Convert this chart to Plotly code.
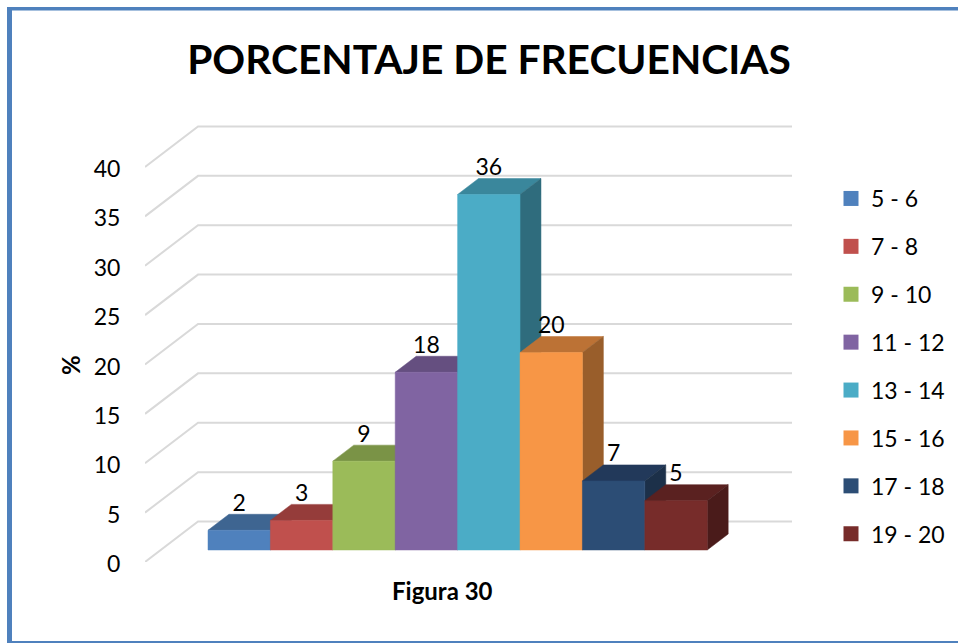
import plotly.graph_objects as go

FONT = "Lato"

categories = ["5 - 6", "7 - 8", "9 - 10", "11 - 12", "13 - 14", "15 - 16", "17 - 18", "19 - 20"]
values = [2, 3, 9, 18, 36, 20, 7, 5]
front_colors = ["#4F81BD", "#C0504D", "#9BBB59", "#8064A2", "#4BACC6", "#F79646", "#2C4D75", "#772C2A"]
top_colors = ["#3E6591", "#953C3A", "#7A9346", "#654F80", "#3A879C", "#BC7235", "#22395A", "#5A2120"]
side_colors = ["#2F4D72", "#723432", "#5E7136", "#4D3D62", "#2F6C7D", "#995E2B", "#1C3049", "#4A1B1A"]
y_ticks = [0, 5, 10, 15, 20, 25, 30, 35, 40]

W, H = 958, 643
L, R, T, B = 145, 792, 117, 562
X_MIN, X_MAX = -0.758, 9.61
Y_MAX = 45.06

# oblique projection: one unit of depth moves this far on the axes
WALL_DX, WALL_DY = 0.85, 4.1
BAR_D0, BAR_D1 = 0.296, 0.691


def project(x, y, depth):
    return x + depth * WALL_DX, y + depth * WALL_DY


def polygon(points):
    xs, ys = zip(*[project(*p) for p in points])
    return list(xs) + [xs[0]], list(ys) + [ys[0]]


def px(x):
    return (x - L) / (R - L)


def py(y):
    return (B - y) / (B - T)


fig = go.Figure()

# walls and floor
for t in y_ticks:
    gx, gy = zip(*[project(X_MIN, t, 0), project(X_MIN, t, 1), (X_MAX, t + WALL_DY)])
    fig.add_trace(go.Scatter(x=gx, y=gy, mode="lines", showlegend=False, hoverinfo="skip",
                             cliponaxis=False, line=dict(color="#D9D9D9", width=2)))

# bars, left to right so each one covers the side of the one before
for i, v in enumerate(values):
    top = polygon([(i, v, BAR_D0), (i + 1, v, BAR_D0), (i + 1, v, BAR_D1), (i, v, BAR_D1)])
    side = polygon([(i + 1, 0, BAR_D0), (i + 1, v, BAR_D0), (i + 1, v, BAR_D1), (i + 1, 0, BAR_D1)])
    front = polygon([(i, 0, BAR_D0), (i + 1, 0, BAR_D0), (i + 1, v, BAR_D0), (i, v, BAR_D0)])
    for (fx, fy), c in [(top, top_colors[i]), (side, side_colors[i]), (front, front_colors[i])]:
        fig.add_trace(go.Scatter(x=fx, y=fy, mode="lines", fill="toself", fillcolor=c,
                                 line=dict(color=c, width=0.5), showlegend=False,
                                 hoverinfo="skip"))

# legend swatches
for c, col in zip(categories, front_colors):
    fig.add_trace(go.Scatter(x=[None], y=[None], mode="markers", name=c, legendgroup=c,
                             marker=dict(symbol="square", size=15, color=col)))

# data labels
lx = [project(i + 0.5, 0, BAR_D0)[0] for i in range(len(values))]
ly = [project(0, v, BAR_D0)[1] + 2.55 for v in values]
fig.add_trace(go.Scatter(x=lx, y=ly, mode="text", text=[str(v) for v in values],
                         textposition="middle center", showlegend=False, hoverinfo="skip",
                         cliponaxis=False,
                         textfont=dict(family=FONT, size=23, color="black")))

fig.update_layout(
    width=W, height=H,
    margin=dict(l=L, r=W - R, t=T, b=H - B, autoexpand=False),
    paper_bgcolor="white", plot_bgcolor="white",
    font=dict(family=FONT, color="black"),
    title=dict(text="<b>PORCENTAJE DE FRECUENCIAS</b>", x=489 / W, xanchor="center",
               y=1 - 60 / H, yanchor="middle", font=dict(family=FONT, size=40.7, color="black")),
    legend=dict(x=px(831), y=py(177), xanchor="left", yanchor="top", tracegroupgap=15,
                font=dict(family=FONT, size=23), itemsizing="trace", itemwidth=30,
                bgcolor="rgba(0,0,0,0)"),
    xaxis=dict(range=[X_MIN, X_MAX], visible=False, fixedrange=True),
    yaxis=dict(range=[0, Y_MAX], tickvals=y_ticks, ticks="outside", ticklen=19,
               tickcolor="rgba(0,0,0,0)", showgrid=False, zeroline=False, showline=False,
               fixedrange=True, ticklabelshift=2,
               tickfont=dict(family=FONT, size=23, color="black")),
    annotations=[
        dict(text="<b>Figura 30</b>", xref="paper", yref="paper", x=px(442), y=py(590),
             xanchor="center", yanchor="middle", showarrow=False,
             font=dict(family=FONT, size=24, color="black")),
        dict(text="<b>%</b>", xref="paper", yref="paper", x=px(70), y=py(365),
             xanchor="center", yanchor="middle", showarrow=False, textangle=-90,
             font=dict(family=FONT, size=24, color="black")),
    ],
    shapes=[
        dict(type="rect", xref="paper", yref="paper", x0=px(7), x1=px(12), y0=py(7), y1=py(643),
             fillcolor="#4F81BD", line_width=0, layer="below"),
        dict(type="rect", xref="paper", yref="paper", x0=px(7), x1=px(958), y0=py(7), y1=py(10.5),
             fillcolor="#4F81BD", line_width=0, layer="below"),
        dict(type="rect", xref="paper", yref="paper", x0=px(7), x1=px(958), y0=py(641), y1=py(643),
             fillcolor="#4F81BD", line_width=0, layer="below"),
    ],
)

# the page's default body margin would push the chart 8px in
fig.write_html("out.html", config=dict(displayModeBar=False),
               post_script="document.body.style.margin = '0';")
